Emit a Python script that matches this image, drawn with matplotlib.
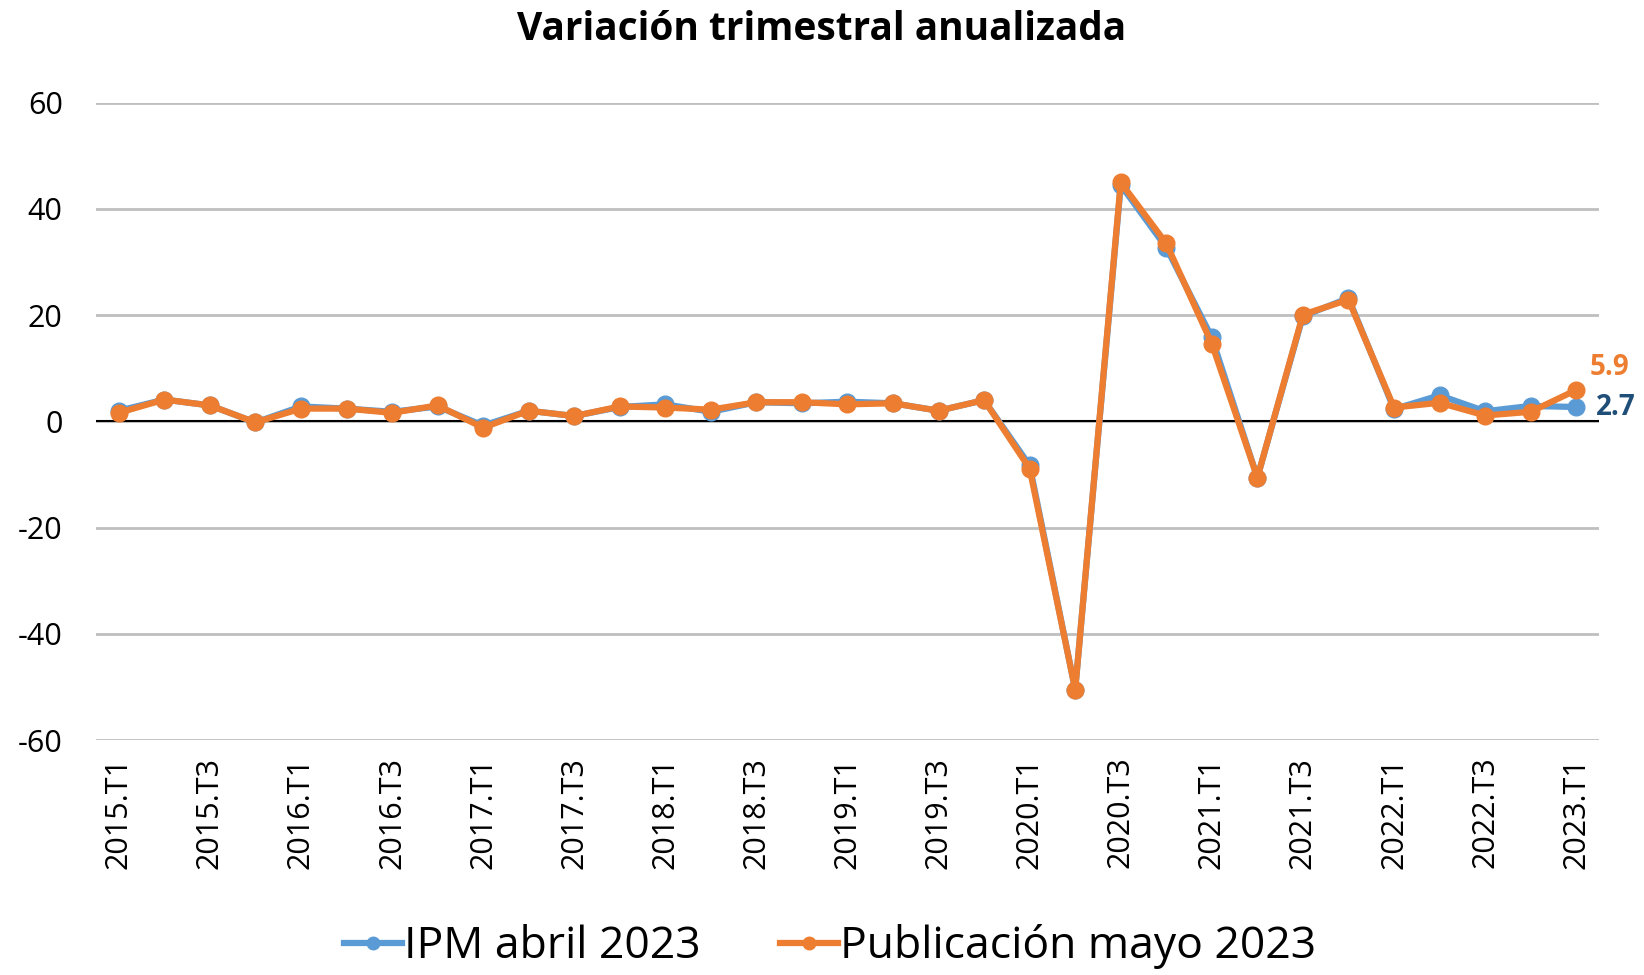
import numpy as np
import matplotlib.pyplot as plt

plt.rcParams['font.family'] = ['Open Sans', 'DejaVu Sans']
plt.rcParams['axes.unicode_minus'] = False

quarters = [f'{y}.T{q}' for y in range(2015, 2023) for q in range(1, 5)] + ['2023.T1']

ipm_abril = [2.0, 4.1, 3.0, -0.2, 2.8, 2.4, 1.8, 2.8, -0.8, 2.0, 1.0, 2.7,
             3.2, 1.8, 3.6, 3.4, 3.7, 3.4, 2.0, 4.0, -8.3, -50.5, 44.5, 32.7,
             15.8, -10.6, 19.8, 23.2, 2.3, 4.9, 1.9, 2.9, 2.7]
pub_mayo = [1.6, 4.1, 3.0, -0.2, 2.4, 2.4, 1.6, 3.0, -1.2, 2.0, 1.0, 2.8,
            2.6, 2.2, 3.6, 3.6, 3.2, 3.4, 2.0, 4.0, -8.9, -50.5, 45.0, 33.5,
            14.6, -10.6, 20.1, 22.9, 2.6, 3.5, 1.1, 1.8, 5.9]

blue = '#5B9BD5'
orange = '#ED7D31'

fig = plt.figure(figsize=(16.44, 9.75), dpi=100)
ax = fig.add_axes([0.0584, 0.241, 0.9142, 0.6537])

x = np.arange(len(quarters))
ax.plot(x, ipm_abril, color=blue, lw=4.5, marker='o', ms=12, label='IPM abril 2023', zorder=3)
ax.plot(x, pub_mayo, color=orange, lw=4.5, marker='o', ms=12, label='Publicación mayo 2023', zorder=4)

ax.axhline(0, color='black', lw=1.5, zorder=2)
ax.set_ylim(-60, 60)
ax.set_yticks(np.arange(-60, 61, 20))
ax.set_xlim(-0.5, len(quarters) - 0.5)
ax.grid(axis='y', color='#BFBFBF', lw=2)
ax.set_axisbelow(True)
for s in ax.spines.values():
    s.set_visible(False)

ax.set_xticks(x[::2])
ax.set_xticklabels(quarters[::2], rotation=90, fontsize=22)
ax.tick_params(axis='both', length=0, pad=12)
ax.tick_params(axis='y', labelsize=22, pad=24)

ax.annotate(f'{pub_mayo[-1]:.1f}', (x[-1], pub_mayo[-1]), xytext=(10, 16), textcoords='offset points',
            color=orange, fontsize=20, fontweight='bold', va='center')
ax.annotate(f'{ipm_abril[-1]:.1f}', (x[-1], ipm_abril[-1]), xytext=(14, 0), textcoords='offset points',
            color='#1F4E79', fontsize=20, fontweight='bold', va='center')

fig.suptitle('Variación trimestral anualizada', fontsize=28, fontweight='bold', y=0.99)
fig.legend(loc='lower center', ncol=2, frameon=False, fontsize=32, bbox_to_anchor=(0.505, -0.035),
           handlelength=1.3, handletextpad=0.05, columnspacing=1.8, markerscale=0.75)

fig.savefig('out.png', dpi=100)
